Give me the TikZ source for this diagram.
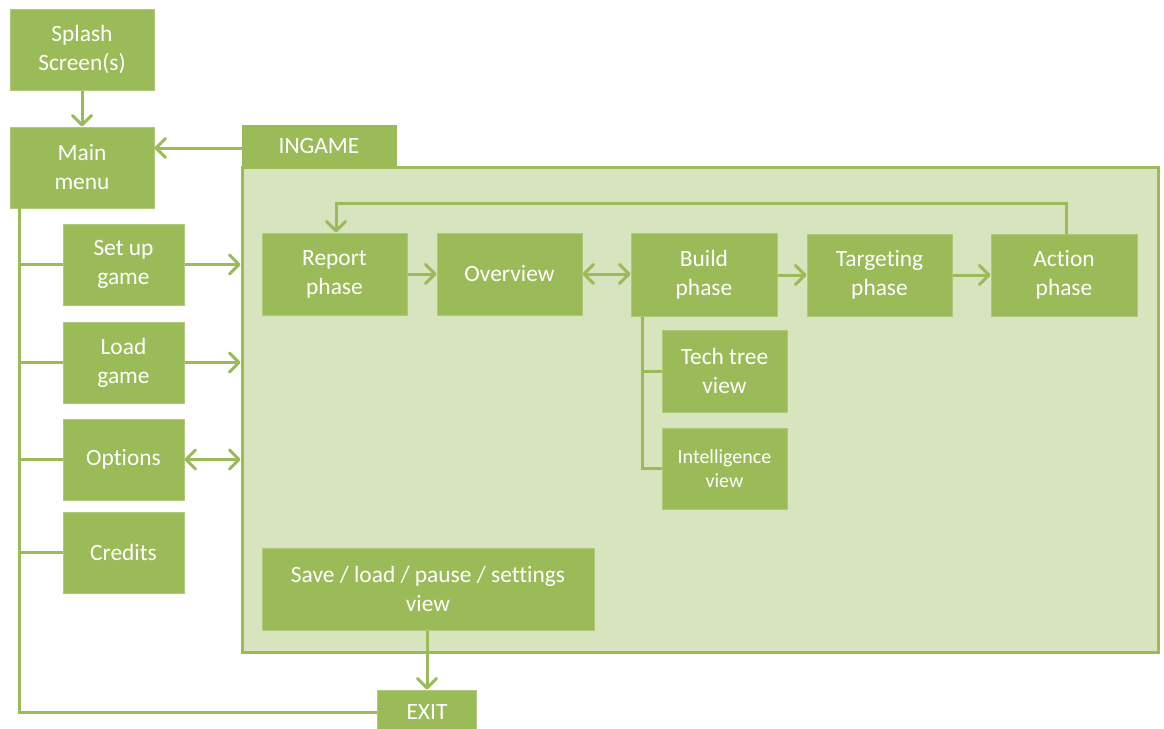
\documentclass[tikz,border=0pt]{standalone}
\usepackage{fontspec}
\setmainfont{Carlito}[Ligatures=NoCommon]
\usetikzlibrary{arrows.meta}
\definecolor{leaf}{HTML}{9BBB59}
\definecolor{pale}{HTML}{D7E4BD}
\begin{document}
\begin{tikzpicture}[x=1pt,y=-1pt,
  box/.style={rectangle, fill=leaf, draw=leaf!80!white, line width=1pt,
    text=white, align=center, inner sep=0pt,
    font=\fontsize{23.4}{29}\selectfont},
  smallbox/.style={box, font=\fontsize{20}{24.5}\selectfont},
  link/.style={draw=leaf, line width=3pt},
  tip/.tip={Straight Barb[length=9.5pt,width=19pt,round]},
  arr/.style={link, -tip},
  darr/.style={link, tip-tip},
]
\useasboundingbox (0,0) rectangle (1164,728);

% in-game container with its tab
\node[rectangle, fill=pale, draw=leaf, line width=3pt, minimum width=916pt,
  minimum height=485pt, inner sep=0pt] (ingame) at (700,409.5) {};
\node[box, draw=leaf, minimum width=154pt, minimum height=42pt] (tab) at (319,146) {INGAME};

% menu screens
\node[box, minimum width=144pt, minimum height=81pt] (splash) at (82,49.5) {Splash\\Screen(s)};
\node[box, minimum width=144pt, minimum height=81pt] (main) at (82,167.5) {Main\\menu};
\node[box, minimum width=121pt, minimum height=81pt] (setup) at (123.5,264.5) {Set up\\game};
\node[box, minimum width=121pt, minimum height=81pt] (load) at (123.5,362.5) {Load\\game};
\node[box, minimum width=121pt, minimum height=81pt] (options) at (123.5,459.5) {Options};
\node[box, minimum width=121pt, minimum height=81pt] (credits) at (123.5,552.5) {Credits};

% game phases
\node[box, minimum width=145pt, minimum height=82pt] (report) at (334.5,274) {Report\\phase};
\node[box, minimum width=145pt, minimum height=82pt] (overview) at (509.5,274) {Overview};
\node[box, minimum width=146pt, minimum height=83pt] (build) at (704,275) {Build\\phase};
\node[box, minimum width=145pt, minimum height=82pt] (targeting) at (879.5,275) {Targeting\\phase};
\node[box, minimum width=146pt, minimum height=82pt] (action) at (1064,275) {Action\\phase};
\node[box, minimum width=125pt, minimum height=82pt] (tech) at (724.5,371) {Tech tree\\view};
\node[smallbox, minimum width=125pt, minimum height=81pt] (intel) at (724.5,468.5) {Intelligence\\view};
\node[box, minimum width=332pt, minimum height=82pt] (save) at (428,589) {Save / load / pause / settings\\view};
\node[box, minimum width=99pt, minimum height=44pt] (exit) at (427,712) {EXIT};

% menu connectors
\draw[arr] (splash.south) -- (main.north);
\draw[arr] (tab.west |- 0,148) -- (main.east |- 0,148);
\coordinate (trunk) at (19,208);
\draw[link] (trunk) |- (exit.west);
\foreach \n in {setup,load,options,credits}
  \draw[link] (trunk |- \n.west) -- (\n.west);
\draw[arr] (setup.east) -- (setup.east -| ingame.west);
\draw[arr] (load.east) -- (load.east -| ingame.west);
\draw[darr] (options.east) -- (options.east -| ingame.west);

% phase connectors
\draw[arr] (report.east) -- (overview.west);
\draw[darr] (overview.east) -- (overview.east -| build.west);
\draw[arr] (build.east) -- (targeting.west);
\draw[arr] (targeting.east) -- (action.west);
\coordinate (loop) at (0,203);
\coordinate (ret) at (1066,0);
\coordinate (rin) at (336,0);
\draw[arr] (ret |- action.north) -- (ret |- loop) -- (rin |- loop) -- (rin |- report.north);
\coordinate (btrunk) at (642,317);
\draw[link] (btrunk) |- (intel.west);
\draw[link] (btrunk |- tech.west) -- (tech.west);
\draw[arr] (exit.north |- save.south) -- (exit.north);
\end{tikzpicture}
\end{document}
